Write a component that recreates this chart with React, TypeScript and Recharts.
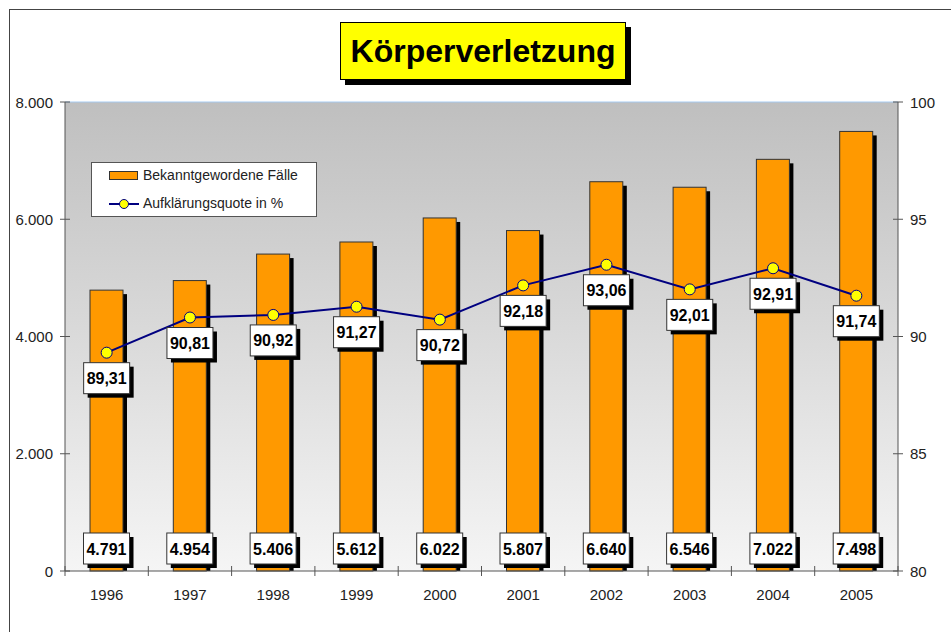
import React from "react";
import {
  Bar,
  CartesianGrid,
  ComposedChart,
  LabelList,
  Legend,
  Line,
  ReferenceLine,
  XAxis,
  YAxis,
} from "recharts";

const YEARS = ["1996", "1997", "1998", "1999", "2000", "2001", "2002", "2003", "2004", "2005"];
const FAELLE = [4791, 4954, 5406, 5612, 6022, 5807, 6640, 6546, 7022, 7498];
const QUOTE = [89.31, 90.81, 90.92, 91.27, 90.72, 92.18, 93.06, 92.01, 92.91, 91.74];
const LEFT_TICKS = [0, 2000, 4000, 6000, 8000];
const RIGHT_TICKS = [80, 85, 90, 95, 100];

const data = YEARS.map((year, i) => ({ year, faelle: FAELLE[i], quote: QUOTE[i] }));

const W = 951;
const H = 632;
const PLOT_LEFT = 65;
const PLOT_RIGHT = 898;
const STEP = (PLOT_RIGHT - PLOT_LEFT) / YEARS.length;

const FONT = "Arial, 'Liberation Sans', sans-serif";
const ORANGE = "#FF9900";
const NAVY = "#000080";
const YELLOW = "#FFFF00";
const AXIS = "#555";
const TEXT = "#222";

const fmtInt = (v: number) => String(v).replace(/\B(?=(\d{3})+(?!\d))/g, ".");
const fmtPct = (v: number) => v.toFixed(2).replace(".", ",");

function ValueBox({ cx, top, text }: { cx: number; top: number; text: string }) {
  const bw = 46;
  const bh = 31;
  const x = cx - bw / 2;
  return (
    <g>
      <rect x={x + 4} y={top + 4} width={bw} height={bh} fill="#000" />
      <rect x={x} y={top} width={bw} height={bh} fill="#fff" stroke="#333" strokeWidth={1} />
      <text
        x={cx}
        y={top + bh / 2 + 6}
        textAnchor="middle"
        fontFamily={FONT}
        fontWeight="bold"
        fontSize={16}
        fill="#000"
      >
        {text}
      </text>
    </g>
  );
}

const BarShape = (props: any) => {
  const { x, y, width, height } = props;
  return (
    <g>
      <rect x={x + 4} y={y + 4} width={width} height={Math.max(height - 4, 0)} fill="#000" />
      <rect x={x} y={y} width={width} height={height} fill={ORANGE} stroke="#333" strokeWidth={1} />
    </g>
  );
};

const BarLabel = (props: any) => {
  const { x, y, width, height, value } = props;
  return <ValueBox cx={x + width / 2} top={y + height - 38} text={fmtInt(value)} />;
};

const LineLabel = (props: any) => {
  const { x, y, value } = props;
  return <ValueBox cx={x} top={y + 10} text={fmtPct(value)} />;
};

const XTick = (props: any) => {
  const { x, y, payload, index } = props;
  const last = index === YEARS.length - 1;
  return (
    <g>
      <line x1={x - STEP / 2} x2={x - STEP / 2} y1={y - 5} y2={y + 5} stroke={AXIS} />
      {last && <line x1={x + STEP / 2} x2={x + STEP / 2} y1={y - 5} y2={y + 5} stroke={AXIS} />}
      <text x={x} y={y + 29} textAnchor="middle" fontFamily={FONT} fontSize={15} fill={TEXT}>
        {payload.value}
      </text>
    </g>
  );
};

const LeftTick = (props: any) => {
  const { x, y, payload } = props;
  return (
    <g>
      <line x1={x - 5} x2={x + 5} y1={y} y2={y} stroke={AXIS} />
      <text x={x - 12} y={y + 5.5} textAnchor="end" fontFamily={FONT} fontSize={15} fill={TEXT}>
        {fmtInt(payload.value)}
      </text>
    </g>
  );
};

const RightTick = (props: any) => {
  const { x, y, payload } = props;
  return (
    <g>
      <line x1={x - 5} x2={x + 5} y1={y} y2={y} stroke={AXIS} />
      <text x={x + 12} y={y + 5.5} textAnchor="start" fontFamily={FONT} fontSize={15} fill={TEXT}>
        {payload.value}
      </text>
    </g>
  );
};

const LegendContent = () => (
  <div
    style={{
      position: "relative",
      width: 226,
      height: 55,
      boxSizing: "border-box",
      border: "1px solid #555",
      background: "#fff",
      fontFamily: FONT,
      fontSize: 14,
      color: TEXT,
    }}
  >
    <div
      style={{
        position: "absolute",
        left: 17,
        top: 8,
        width: 29,
        height: 9,
        boxSizing: "border-box",
        background: ORANGE,
        border: "1px solid #333",
      }}
    />
    <div style={{ position: "absolute", left: 51, top: 4, lineHeight: "17px" }}>Bekanntgewordene Fälle</div>
    <svg style={{ position: "absolute", left: 17, top: 34 }} width={30} height={14}>
      <line x1={0} x2={30} y1={7} y2={7} stroke={NAVY} strokeWidth={2} />
      <circle cx={15} cy={7} r={4.5} fill={YELLOW} stroke={NAVY} strokeWidth={1} />
    </svg>
    <div style={{ position: "absolute", left: 51, top: 32, lineHeight: "17px" }}>Aufklärungsquote in %</div>
  </div>
);

export default function App() {
  return (
    <div style={{ position: "absolute", left: 0, top: 0, width: W, height: H, background: "#fff", overflow: "hidden" }}>
      <div
        style={{
          position: "absolute",
          left: 9,
          top: 9,
          right: -2,
          bottom: -2,
          borderLeft: "1px solid #444",
          borderTop: "1px solid #444",
        }}
      />
      <ComposedChart
        width={W}
        height={H}
        data={data}
        margin={{ top: 102, right: 8, bottom: 31, left: 10 }}
        style={{ position: "absolute", left: 0, top: 0 }}
      >
        <defs>
          <linearGradient id="bg" x1="0" y1="0" x2="0" y2="1">
            <stop offset="0%" stopColor="#bfbfbf" />
            <stop offset="100%" stopColor="#f5f5f5" />
          </linearGradient>
        </defs>
        <CartesianGrid horizontal={false} vertical={false} fill="url(#bg)" />
        <XAxis
          dataKey="year"
          height={30}
          stroke={AXIS}
          tickLine={false}
          tickSize={0}
          tickMargin={0}
          tick={<XTick />}
          interval={0}
        />
        <YAxis
          yAxisId="left"
          width={55}
          domain={[0, 8000]}
          ticks={LEFT_TICKS}
          stroke={AXIS}
          tickLine={false}
          tickSize={0}
          tickMargin={0}
          tick={<LeftTick />}
        />
        <YAxis
          yAxisId="right"
          orientation="right"
          width={45}
          domain={[80, 100]}
          ticks={RIGHT_TICKS}
          stroke={AXIS}
          tickLine={false}
          tickSize={0}
          tickMargin={0}
          tick={<RightTick />}
        />
        <ReferenceLine yAxisId="left" y={8000} stroke="#a6caf0" />
        <Legend
          layout="vertical"
          align="center"
          verticalAlign="middle"
          content={<LegendContent />}
          wrapperStyle={{ left: 91, top: 162, width: 226, height: 55 }}
        />
        <Bar
          yAxisId="left"
          dataKey="faelle"
          name="Bekanntgewordene Fälle"
          barSize={33}
          shape={<BarShape />}
          isAnimationActive={false}
        >
          <LabelList dataKey="faelle" content={<BarLabel />} />
        </Bar>
        <Line
          yAxisId="right"
          dataKey="quote"
          name="Aufklärungsquote in %"
          stroke={NAVY}
          strokeWidth={2}
          dot={{ r: 5.5, fill: YELLOW, stroke: NAVY, strokeWidth: 1 }}
          isAnimationActive={false}
        >
          <LabelList dataKey="quote" content={<LineLabel />} />
        </Line>
      </ComposedChart>
      <div
        style={{
          position: "absolute",
          left: 340,
          top: 22,
          width: 286,
          height: 58,
          boxSizing: "border-box",
          background: YELLOW,
          border: "1px solid #000",
          boxShadow: "5px 5px 0 #000",
          fontFamily: FONT,
          fontWeight: "bold",
          fontSize: 32,
          lineHeight: "56px",
          textAlign: "center",
          color: "#000",
        }}
      >
        Körperverletzung
      </div>
    </div>
  );
}
